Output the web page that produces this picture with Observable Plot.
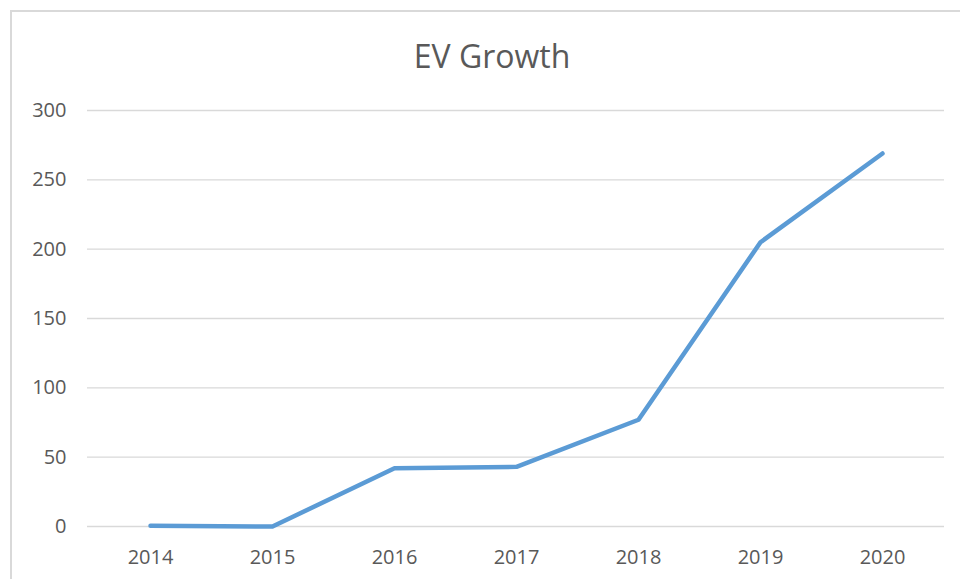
<!DOCTYPE html>
<html>
<head>
<meta charset="utf-8">
<script src="https://cdn.jsdelivr.net/npm/d3@7"></script>
<script src="https://cdn.jsdelivr.net/npm/@observablehq/plot@0.6"></script>
<style>
  html, body { margin: 0; padding: 0; background: #fff; overflow: hidden; }
  #wrap { position: relative; width: 960px; height: 579px; }
  #frame { position: absolute; left: 10px; top: 10px; width: 970px; height: 590px; border: 2px solid #d9d9d9; box-sizing: border-box; pointer-events: none; }
  #title { position: absolute; left: 0; width: 984px; top: 35px; text-align: center; font-family: "Open Sans", sans-serif; font-size: 32px; color: #595959; line-height: 42px; }
  #chart { position: absolute; left: 0; top: 0; }
</style>
</head>
<body>
<div id="wrap">
  <div id="chart"></div>
  <div id="frame"></div>
  <div id="title">EV Growth</div>
</div>
<script>
const years = ["2014", "2015", "2016", "2017", "2018", "2019", "2020"];
const evValues = [0.5, 0, 42, 43, 77, 205, 269];
const yTicks = [0, 50, 100, 150, 200, 250, 300];

const data = years.map((y, i) => ({year: y, value: evValues[i]}));

const chart = Plot.plot({
  width: 960,
  height: 579,
  marginLeft: 87,
  marginRight: 16,
  marginTop: 110,
  marginBottom: 53,
  style: {fontFamily: "'Open Sans', sans-serif", fontSize: "20px", color: "#595959", background: "transparent"},
  x: {type: "point", domain: years, padding: 0.5, label: null},
  y: {domain: [0, 300], ticks: yTicks, label: null},
  marks: [
    Plot.ruleY(yTicks, {stroke: "#d9d9d9", strokeWidth: 1.3}),
    Plot.axisY({ticks: yTicks, tickSize: 0, tickPadding: 21, label: null, fill: "#595959"}),
    Plot.axisX({tickSize: 0, tickPadding: 23, label: null, fill: "#595959"}),
    Plot.line(data, {x: "year", y: "value", stroke: "#5b9bd5", strokeWidth: 4.5, strokeLinecap: "round", strokeLinejoin: "round"})
  ]
});
document.getElementById("chart").appendChild(chart);
</script>
</body>
</html>
